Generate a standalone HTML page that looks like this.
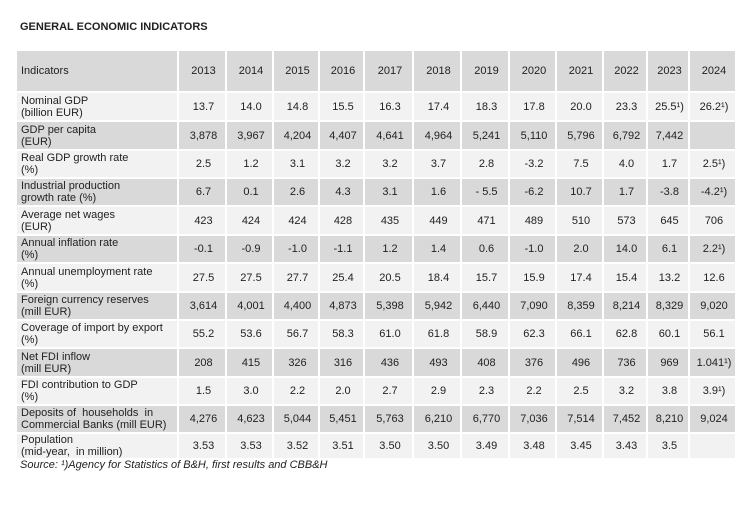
<!DOCTYPE html>
<html><head><meta charset="utf-8"><style>
body{margin:0;background:#fff;width:750px;height:505px;overflow:hidden;font-family:"Liberation Sans",Arial,sans-serif;color:#222}
.t{position:absolute;left:20px;top:21px;font-weight:bold;font-size:11px}
table{position:absolute;left:15px;top:49px;border-collapse:collapse;table-layout:fixed;width:720px;font-size:11px}
td{border:2px solid #fff;padding:0 0 0 3px;text-align:center;line-height:12px;white-space:nowrap;overflow:hidden}
td:first-child{text-align:left;padding-left:4px}
tr.g td{background:#d9d9d9}
tr.l td{background:#f2f2f2}
.s{position:absolute;left:20px;top:459px;font-style:italic;font-size:11px}
</style></head><body>
<div class="t">GENERAL ECONOMIC INDICATORS</div>
<table>
<colgroup><col style="width:162px"><col style="width:48px"><col style="width:47px"><col style="width:46px"><col style="width:45px"><col style="width:49px"><col style="width:48px"><col style="width:48px"><col style="width:47px"><col style="width:47px"><col style="width:44px"><col style="width:42px"><col style="width:47px"></colgroup>
<tr class="g" style="height:42px"><td>Indicators</td><td>2013</td><td>2014</td><td>2015</td><td>2016</td><td>2017</td><td>2018</td><td>2019</td><td>2020</td><td>2021</td><td>2022</td><td>2023</td><td>2024</td></tr>
<tr class="l" style="height:29px"><td>Nominal GDP<br>(billion EUR)</td><td>13.7</td><td>14.0</td><td>14.8</td><td>15.5</td><td>16.3</td><td>17.4</td><td>18.3</td><td>17.8</td><td>20.0</td><td>23.3</td><td>25.5¹)</td><td>26.2¹)</td></tr>
<tr class="g" style="height:29px"><td>GDP per capita<br>(EUR)</td><td>3,878</td><td>3,967</td><td>4,204</td><td>4,407</td><td>4,641</td><td>4,964</td><td>5,241</td><td>5,110</td><td>5,796</td><td>6,792</td><td>7,442</td><td></td></tr>
<tr class="l" style="height:28px"><td>Real GDP growth rate<br>(%)</td><td>2.5</td><td>1.2</td><td>3.1</td><td>3.2</td><td>3.2</td><td>3.7</td><td>2.8</td><td>-3.2</td><td>7.5</td><td>4.0</td><td>1.7</td><td>2.5¹)</td></tr>
<tr class="g" style="height:28px"><td>Industrial production<br>growth rate (%)</td><td>6.7</td><td>0.1</td><td>2.6</td><td>4.3</td><td>3.1</td><td>1.6</td><td>- 5.5</td><td>-6.2</td><td>10.7</td><td>1.7</td><td>-3.8</td><td>-4.2¹)</td></tr>
<tr class="l" style="height:29px"><td>Average net wages<br>(EUR)</td><td>423</td><td>424</td><td>424</td><td>428</td><td>435</td><td>449</td><td>471</td><td>489</td><td>510</td><td>573</td><td>645</td><td>706</td></tr>
<tr class="g" style="height:28px"><td>Annual inflation rate<br>(%)</td><td>-0.1</td><td>-0.9</td><td>-1.0</td><td>-1.1</td><td>1.2</td><td>1.4</td><td>0.6</td><td>-1.0</td><td>2.0</td><td>14.0</td><td>6.1</td><td>2.2¹)</td></tr>
<tr class="l" style="height:29px"><td>Annual unemployment rate<br>(%)</td><td>27.5</td><td>27.5</td><td>27.7</td><td>25.4</td><td>20.5</td><td>18.4</td><td>15.7</td><td>15.9</td><td>17.4</td><td>15.4</td><td>13.2</td><td>12.6</td></tr>
<tr class="g" style="height:28px"><td>Foreign currency reserves<br>(mill EUR)</td><td>3,614</td><td>4,001</td><td>4,400</td><td>4,873</td><td>5,398</td><td>5,942</td><td>6,440</td><td>7,090</td><td>8,359</td><td>8,214</td><td>8,329</td><td>9,020</td></tr>
<tr class="l" style="height:28px"><td>Coverage of import by export<br>(%)</td><td>55.2</td><td>53.6</td><td>56.7</td><td>58.3</td><td>61.0</td><td>61.8</td><td>58.9</td><td>62.3</td><td>66.1</td><td>62.8</td><td>60.1</td><td>56.1</td></tr>
<tr class="g" style="height:29px"><td>Net FDI inflow<br>(mill EUR)</td><td>208</td><td>415</td><td>326</td><td>316</td><td>436</td><td>493</td><td>408</td><td>376</td><td>496</td><td>736</td><td>969</td><td>1.041¹)</td></tr>
<tr class="l" style="height:28px"><td>FDI contribution to GDP<br>(%)</td><td>1.5</td><td>3.0</td><td>2.2</td><td>2.0</td><td>2.7</td><td>2.9</td><td>2.3</td><td>2.2</td><td>2.5</td><td>3.2</td><td>3.8</td><td>3.9¹)</td></tr>
<tr class="g" style="height:28px"><td>Deposits of &nbsp;households &nbsp;in<br>Commercial Banks (mill EUR)</td><td>4,276</td><td>4,623</td><td>5,044</td><td>5,451</td><td>5,763</td><td>6,210</td><td>6,770</td><td>7,036</td><td>7,514</td><td>7,452</td><td>8,210</td><td>9,024</td></tr>
<tr class="l" style="height:26px"><td>Population<br>(mid-year, &nbsp;in million)</td><td>3.53</td><td>3.53</td><td>3.52</td><td>3.51</td><td>3.50</td><td>3.50</td><td>3.49</td><td>3.48</td><td>3.45</td><td>3.43</td><td>3.5</td><td></td></tr>
</table>
<div class="s">Source: ¹)Agency for Statistics of B&amp;H, first results and CBB&amp;H</div>
</body></html>
